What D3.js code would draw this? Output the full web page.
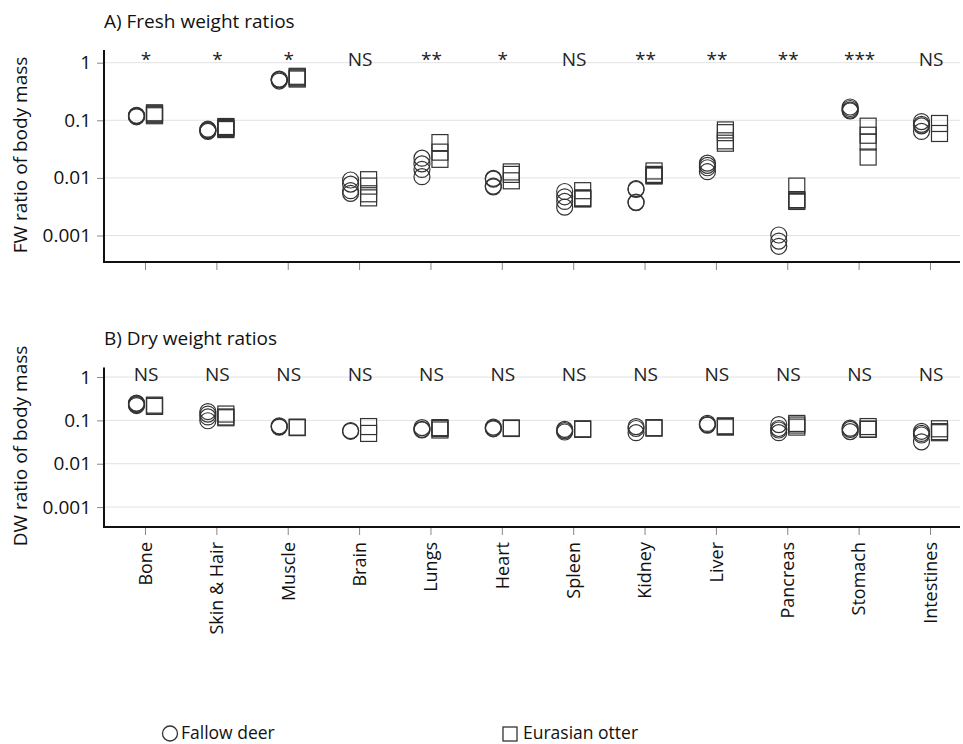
<!DOCTYPE html>
<html>
<head>
<meta charset="utf-8">
<script src="https://cdn.jsdelivr.net/npm/d3@7/dist/d3.min.js"></script>
<style>
  html, body { margin: 0; padding: 0; background: #fff; }
  svg { display: block; font-family: "Open Sans", sans-serif; }
</style>
</head>
<body>
<svg id="chart" width="963" height="744"></svg>
<script>
// Organs
const categories = ["Bone", "Skin & Hair", "Muscle", "Brain", "Lungs", "Heart",
  "Spleen", "Kidney", "Liver", "Pancreas", "Stomach", "Intestines"];

// Significance of the species difference per organ
const sigFW = ["*", "*", "*", "NS", "**", "*", "NS", "**", "**", "**", "***", "NS"];
const sigDW = ["NS", "NS", "NS", "NS", "NS", "NS", "NS", "NS", "NS", "NS", "NS", "NS"];

// Y axis ticks
const yTickValues = [1, 0.1, 0.01, 0.001];
const yTickLabels = ["1", "0.1", "0.01", "0.001"];

// Fresh weight ratios of body mass, one array of individuals per organ
const deerFW = [
  [0.122, 0.12, 0.118, 0.115],
  [0.07, 0.068, 0.066, 0.064],
  [0.52, 0.51, 0.5, 0.48],
  [0.0092, 0.0078, 0.006, 0.0054],
  [0.022, 0.0175, 0.014, 0.0105],
  [0.0098, 0.0095, 0.0072, 0.007],
  [0.0058, 0.0047, 0.0039, 0.0031],
  [0.0065, 0.0063, 0.0038, 0.0037],
  [0.018, 0.0165, 0.015, 0.0128],
  [0.00102, 0.0008, 0.00065],
  [0.17, 0.16, 0.15, 0.145],
  [0.095, 0.085, 0.08, 0.064]
];
const otterFW = [
  [0.135, 0.13, 0.125, 0.12],
  [0.078, 0.075, 0.072, 0.069],
  [0.58, 0.56, 0.54, 0.52],
  [0.0093, 0.0072, 0.0053, 0.0045],
  [0.041, 0.028, 0.021],
  [0.0127, 0.0115, 0.0089],
  [0.006, 0.0045, 0.0044, 0.0043],
  [0.0132, 0.0115, 0.011, 0.0108],
  [0.068, 0.061, 0.044, 0.04],
  [0.0072, 0.0042, 0.0041, 0.0039],
  [0.079, 0.055, 0.042, 0.023],
  [0.088, 0.059]
];

// Dry weight ratios of body mass
const deerDW = [
  [0.25, 0.24, 0.23, 0.22],
  [0.16, 0.14, 0.12, 0.098],
  [0.075, 0.072, 0.07],
  [0.058, 0.056],
  [0.068, 0.062, 0.06],
  [0.07, 0.066, 0.064],
  [0.062, 0.058, 0.054],
  [0.072, 0.065, 0.052],
  [0.085, 0.08, 0.078],
  [0.08, 0.065, 0.06, 0.052],
  [0.066, 0.062, 0.055],
  [0.056, 0.05, 0.046, 0.032]
];
const otterDW = [
  [0.225, 0.215, 0.21],
  [0.14, 0.12, 0.115],
  [0.07, 0.068],
  [0.072, 0.05],
  [0.068, 0.065, 0.06],
  [0.067, 0.065],
  [0.064, 0.062],
  [0.068, 0.066],
  [0.075, 0.072, 0.07],
  [0.085, 0.078, 0.07],
  [0.072, 0.063, 0.062],
  [0.064, 0.055, 0.052]
];

const svg = d3.select("#chart");
const axisLeftX = 104, plotRight = 960;
const markerStroke = "#333";
const textColor = "#111";

const x = d3.scalePoint().domain(categories).range([145, 930]);
const yDomain = [Math.pow(10, -3.46), Math.pow(10, 0.22)];

const panels = [
  { title: "A) Fresh weight ratios", yTitle: "FW ratio of body mass", titleY: 28,
    range: [262, 50], yTitleMid: 155, sig: sigFW, deer: deerFW, otter: otterFW,
    sigY: 65.5, labels: false },
  { title: "B) Dry weight ratios", yTitle: "DW ratio of body mass", titleY: 345,
    range: [527, 367.5], yTitleMid: 446, sig: sigDW, deer: deerDW, otter: otterDW,
    sigY: 380.5, labels: true }
];

panels.forEach(p => {
  const y = d3.scaleLog().domain(yDomain).range(p.range);
  const g = svg.append("g");

  // grid
  g.selectAll("line.grid").data(yTickValues).join("line")
    .attr("x1", axisLeftX).attr("x2", plotRight)
    .attr("y1", d => y(d)).attr("y2", d => y(d))
    .attr("stroke", "#e2e2e2").attr("stroke-width", 1);

  // y axis
  const ya = g.append("g").attr("transform", `translate(${axisLeftX},0)`)
    .call(d3.axisLeft(y).tickValues(yTickValues)
      .tickFormat((d, i) => yTickLabels[i]).tickSize(7).tickSizeOuter(0).tickPadding(6));
  ya.select(".domain").remove();
  ya.selectAll(".tick line").attr("stroke", "#888");
  ya.selectAll(".tick text").attr("font-size", 19).attr("fill", textColor)
    .attr("font-family", "Open Sans");

  // x axis ticks and labels
  const xa = g.append("g").attr("transform", `translate(0,${p.range[0]})`)
    .call(d3.axisBottom(x).tickSize(8).tickSizeOuter(0).tickPadding(8));
  xa.select(".domain").remove();
  xa.selectAll(".tick line").attr("stroke", "#888");
  if (p.labels) {
    xa.selectAll(".tick text")
      .attr("font-size", 18).attr("fill", textColor).attr("font-family", "Open Sans")
      .attr("transform", "rotate(-90)")
      .attr("text-anchor", "end")
      .attr("x", -15).attr("y", 0).attr("dy", "0.35em");
  } else {
    xa.selectAll(".tick text").remove();
  }

  // axis lines
  g.append("line").attr("x1", axisLeftX).attr("x2", axisLeftX)
    .attr("y1", p.range[1]).attr("y2", p.range[0] + 1)
    .attr("stroke", "#111").attr("stroke-width", 2);
  g.append("line").attr("x1", axisLeftX - 1).attr("x2", plotRight)
    .attr("y1", p.range[0]).attr("y2", p.range[0])
    .attr("stroke", "#111").attr("stroke-width", 2.2);

  // titles
  g.append("text").attr("x", axisLeftX).attr("y", p.titleY)
    .attr("font-size", 19).attr("fill", textColor).text(p.title);
  g.append("text").attr("transform", `translate(27,${p.yTitleMid}) rotate(-90)`)
    .attr("text-anchor", "middle").attr("font-size", 19).attr("fill", textColor)
    .text(p.yTitle);

  // significance labels
  g.selectAll("text.sig").data(p.sig).join("text")
    .attr("x", (d, i) => x(categories[i]) + 1)
    .attr("y", p.sigY)
    .attr("text-anchor", "middle").attr("font-size", 19).attr("fill", "#222")
    .text(d => d);

  // fallow deer as circles left of the tick, otters as squares right of it
  categories.forEach((c, i) => {
    g.selectAll(null).data(p.deer[i]).join("circle")
      .attr("cx", x(c) - 8.5).attr("cy", d => y(d)).attr("r", 8)
      .attr("fill", "none").attr("stroke", markerStroke).attr("stroke-width", 1.2);
    g.selectAll(null).data(p.otter[i]).join("rect")
      .attr("x", x(c) + 9.5 - 8).attr("y", d => y(d) - 8)
      .attr("width", 16).attr("height", 16)
      .attr("fill", "none").attr("stroke", markerStroke).attr("stroke-width", 1.2);
  });
});

// legend
const legend = svg.append("g");
legend.append("circle").attr("cx", 170).attr("cy", 733.5).attr("r", 7.5)
  .attr("fill", "none").attr("stroke", markerStroke).attr("stroke-width", 1.3);
legend.append("text").attr("x", 181).attr("y", 739).attr("font-size", 17.5)
  .attr("fill", textColor).text("Fallow deer");
legend.append("rect").attr("x", 503).attr("y", 727).attr("width", 14).attr("height", 14)
  .attr("fill", "none").attr("stroke", markerStroke).attr("stroke-width", 1.3);
legend.append("text").attr("x", 523).attr("y", 739).attr("font-size", 17.5)
  .attr("fill", textColor).text("Eurasian otter");
</script>
</body>
</html>
